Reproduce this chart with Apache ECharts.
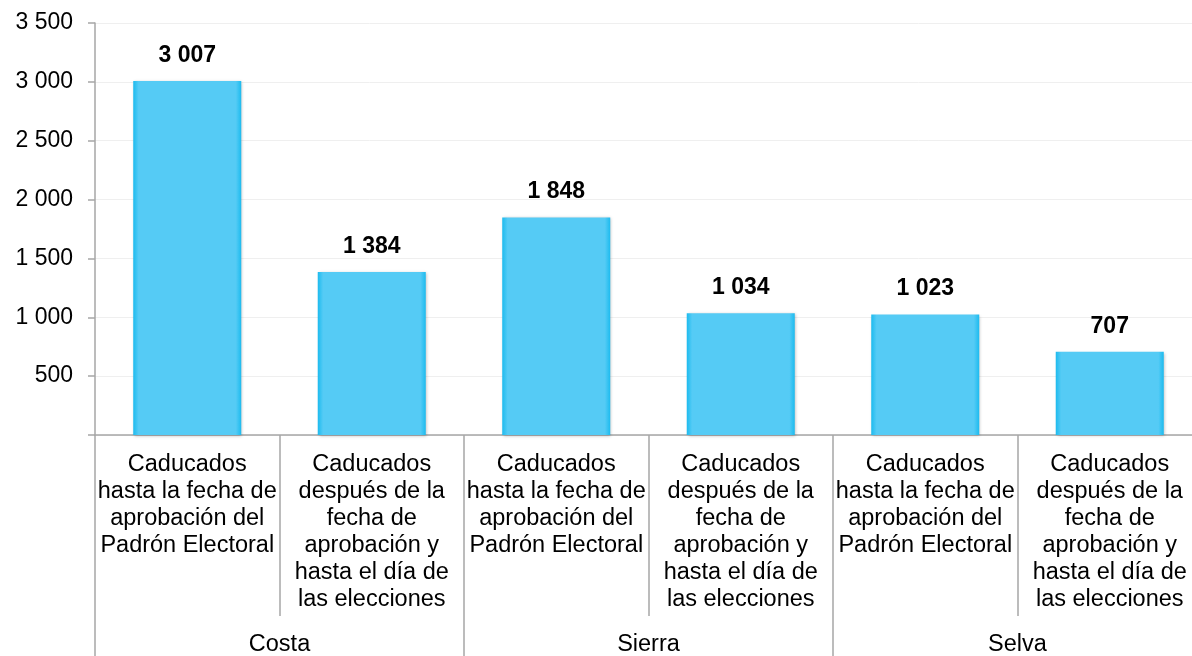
<!DOCTYPE html>
<html>
<head>
<meta charset="utf-8">
<script src="https://cdn.jsdelivr.net/npm/echarts@6/dist/echarts.min.js"></script>
<style>
  html, body { margin: 0; padding: 0; background: #fff; }
  #chart { width: 1192px; height: 656px; }
</style>
</head>
<body>
<div id="chart"></div>
<script>
var categories = [
  'Caducados\nhasta la fecha de\naprobación del\nPadrón Electoral',
  'Caducados\ndespués de la\nfecha de\naprobación y\nhasta el día de\nlas elecciones',
  'Caducados\nhasta la fecha de\naprobación del\nPadrón Electoral',
  'Caducados\ndespués de la\nfecha de\naprobación y\nhasta el día de\nlas elecciones',
  'Caducados\nhasta la fecha de\naprobación del\nPadrón Electoral',
  'Caducados\ndespués de la\nfecha de\naprobación y\nhasta el día de\nlas elecciones'
];
var groups = ['Costa', 'Sierra', 'Selva'];
var values = [3007, 1384, 1848, 1034, 1023, 707];

var font = '"Liberation Sans", Arial, sans-serif';
var axisGrey = '#a6a6a6';

function fmt(v) {
  return String(v).replace(/\B(?=(\d{3})+(?!\d))/g, ' ');
}

var chart = echarts.init(document.getElementById('chart'), null, { renderer: 'canvas' });
chart.setOption({
  animation: false,
  grid: { left: 95, top: 23, width: 1107, height: 412, outerBoundsMode: 'none', containLabel: false },
  xAxis: [
    {
      type: 'category',
      data: categories,
      axisLine: { lineStyle: { color: axisGrey, width: 1.5 } },
      axisTick: { show: true, length: 181, interval: 0, lineStyle: { color: axisGrey, width: 1.5 } },
      axisLabel: {
        interval: 0, margin: 16, color: '#000', fontFamily: font, fontSize: 23.5,
        lineHeight: 27, align: 'center'
      }
    },
    {
      type: 'category',
      data: groups,
      position: 'bottom',
      axisLine: { show: false },
      axisTick: { show: true, length: 240, interval: 0, lineStyle: { color: axisGrey, width: 1.5 } },
      axisLabel: {
        interval: 0, margin: 198, color: '#000', fontFamily: font, fontSize: 23.5
      }
    }
  ],
  yAxis: {
    type: 'value',
    min: 0,
    max: 3500,
    interval: 500,
    axisLine: { show: true, lineStyle: { color: axisGrey, width: 1.5 } },
    axisTick: { show: true, length: 7, lineStyle: { color: axisGrey, width: 1.5 } },
    splitLine: { show: true, lineStyle: { color: '#efefef', width: 1 } },
    axisLabel: {
      margin: 22, color: '#000', fontFamily: font, fontSize: 23,
      formatter: function(v) { return v === 0 ? '' : fmt(v); }
    }
  },
  series: [{
    type: 'bar',
    xAxisIndex: 0,
    data: values,
    barWidth: 108,
    itemStyle: {
      color: {
        type: 'linear', x: 0, y: 0, x2: 1, y2: 0,
        colorStops: [
          { offset: 0, color: '#1cbbef' },
          { offset: 0.05, color: '#55cbf5' },
          { offset: 0.95, color: '#55cbf5' },
          { offset: 1, color: '#1cbbef' }
        ]
      },
      shadowColor: 'rgba(0,0,0,0.25)',
      shadowBlur: 3,
      shadowOffsetX: 1,
      shadowOffsetY: 1
    },
    label: {
      show: true,
      position: 'top',
      distance: 14,
      color: '#000',
      fontFamily: font,
      fontSize: 23,
      fontWeight: 'bold',
      formatter: function(p) { return fmt(p.value); }
    }
  }]
});
window.addEventListener('resize', function() { chart.resize(); });
</script>
</body>
</html>
